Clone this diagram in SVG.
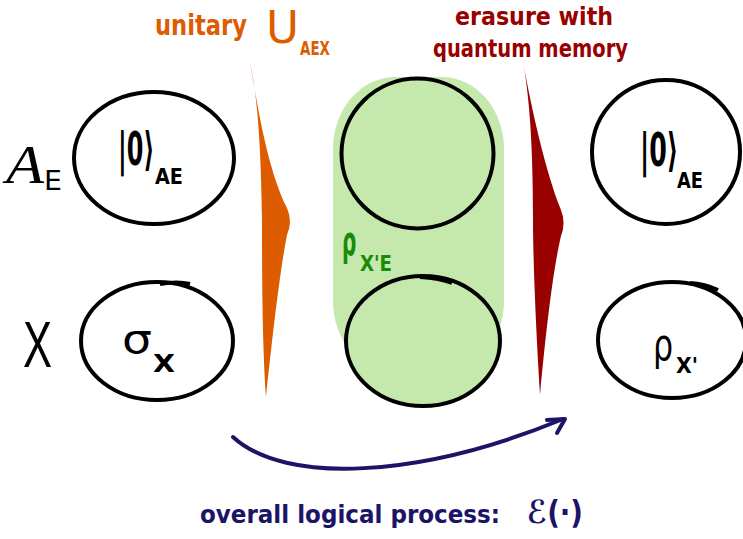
<svg xmlns="http://www.w3.org/2000/svg" width="743" height="539" viewBox="0 0 743 539">
<style>
.c{fill:none;stroke:#000;stroke-width:4}
.cg{fill:#c5e8ad;stroke:#000;stroke-width:4}
.t{font-family:"DejaVu Sans",sans-serif;fill:#000}
.b{font-weight:bold}
.or{fill:#dd5c00}
.dr{fill:#990000}
.gr{fill:#1a8a0a}
.nv{fill:#1c1466}
</style>
<rect width="743" height="539" fill="#fff"/>
<g id="labels-top">
<text class="t b or" x="155" y="35" font-size="28" textLength="92" lengthAdjust="spacingAndGlyphs">unitary</text>
<text class="t or" x="266" y="43" font-size="44" textLength="33" lengthAdjust="spacingAndGlyphs">U</text>
<text class="t b or" x="300" y="55" font-size="19" textLength="30" lengthAdjust="spacingAndGlyphs">AEX</text>
<text class="t b dr" x="455" y="25" font-size="24" textLength="158" lengthAdjust="spacingAndGlyphs">erasure with</text>
<text class="t b dr" x="433" y="57" font-size="24" textLength="195" lengthAdjust="spacingAndGlyphs">quantum memory</text>
</g>
<g id="label-AE">
<text x="6" y="183" font-family="Liberation Serif, serif" font-style="italic" font-size="54" textLength="38" lengthAdjust="spacingAndGlyphs">A</text>
<text class="t" x="44" y="190" font-size="26" textLength="18" lengthAdjust="spacingAndGlyphs">E</text>
</g>
<g id="label-X">
<text x="23" y="367" font-family="Liberation Sans, sans-serif" font-size="64" textLength="29" lengthAdjust="spacingAndGlyphs">X</text>
</g>
<g id="env-in">
<ellipse class="c" cx="154" cy="158" rx="80" ry="66"/>
<text class="t b" transform="translate(118,165) scale(0.52,1)" font-size="46">|0⟩</text>
<text class="t b" x="155" y="184" font-size="21" textLength="28" lengthAdjust="spacingAndGlyphs">AE</text>
</g>
<g id="sys-in">
<ellipse class="c" cx="157" cy="341" rx="76" ry="59"/>
<path class="c" d="M160,284 Q178,281 190,284"/>
<text class="t" x="122" y="353" font-size="40" textLength="30" lengthAdjust="spacingAndGlyphs">σ</text>
<text class="t b" x="153" y="372" font-size="24" textLength="22" lengthAdjust="spacingAndGlyphs">X</text>
</g>
<g id="unitary">
<path class="or" d="M250,62 C258,110 268,170 287,208 Q293,222 287,235 C280,270 272,340 266,397 C262,340 262,260 262,220 C261,150 258,100 250,62 Z"/>
</g>
<g id="joint">
<rect x="333" y="77" width="171" height="296" rx="62" ry="72" fill="#c5e8ad"/>
<ellipse class="cg" cx="417.5" cy="153.5" rx="76" ry="75"/>
<ellipse class="cg" cx="423" cy="341" rx="77" ry="65"/>
<path class="c" d="M420,277 Q440,278 452,283"/>
<text class="t b gr" transform="translate(342,255) scale(0.5,1)" font-size="40">ρ</text>
<text class="t b gr" x="360" y="271" font-size="22" textLength="32" lengthAdjust="spacingAndGlyphs">X'E</text>
</g>
<g id="erasure">
<path class="dr" d="M523,62 C532,110 545,170 561,210 Q566,223 561,236 C553,270 546,330 540,395 C536,330 533,260 533,220 C533,150 530,100 523,62 Z"/>
</g>
<g id="env-out">
<ellipse class="c" cx="666" cy="152" rx="74" ry="72"/>
<text class="t b" transform="translate(640,166) scale(0.55,1)" font-size="46">|0⟩</text>
<text class="t b" x="677" y="188" font-size="21" textLength="26" lengthAdjust="spacingAndGlyphs">AE</text>
</g>
<g id="sys-out">
<ellipse class="c" cx="672" cy="340" rx="74" ry="58"/>
<path class="c" d="M690,283 Q705,284 718,290"/>
<text class="t" transform="translate(653,360) scale(0.72,1)" font-size="44">ρ</text>
<text class="t b" x="676" y="373" font-size="22" textLength="22" lengthAdjust="spacingAndGlyphs">X'</text>
</g>
<g id="connectors">
<path d="M233,437 C285,485 420,478 563,419" fill="none" stroke="#1c1466" stroke-width="4" stroke-linecap="round"/>
<polyline points="547,420 565,419 557,433" fill="none" stroke="#1c1466" stroke-width="4" stroke-linecap="round" stroke-linejoin="round"/>
</g>
<g id="label-process">
<text class="t b nv" x="200" y="523" font-size="24" textLength="300" lengthAdjust="spacingAndGlyphs">overall logical process:</text>
<text class="t b nv" x="527" y="523" font-size="32" textLength="56" lengthAdjust="spacingAndGlyphs">ℰ(·)</text>
</g>
</svg>
